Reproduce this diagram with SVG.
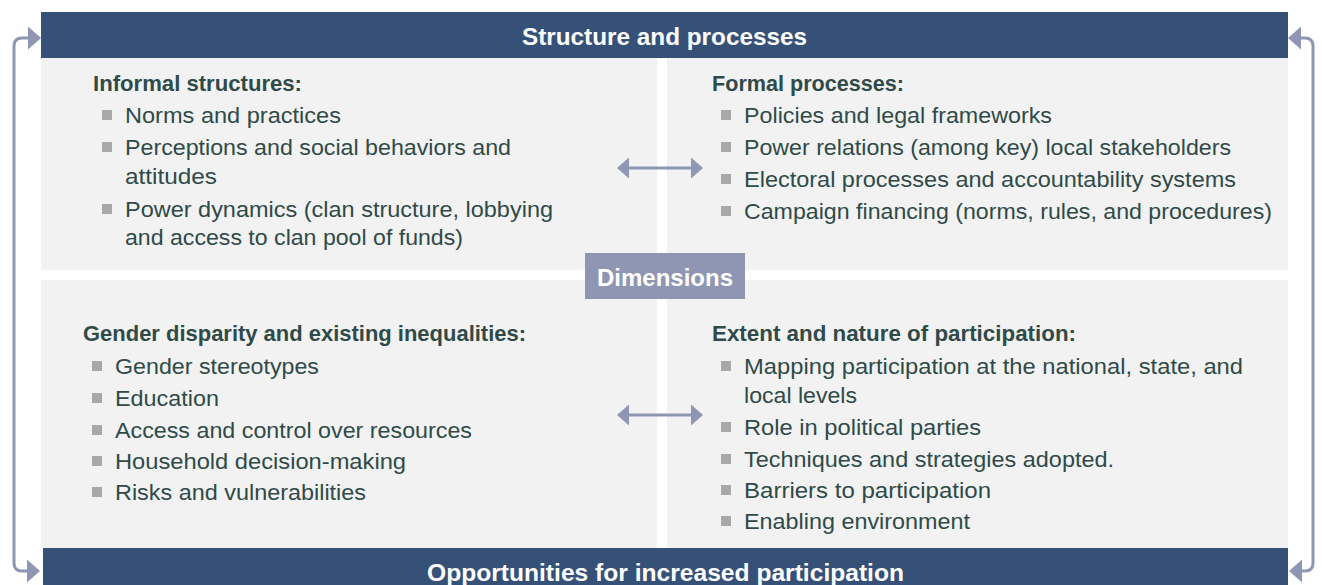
<svg xmlns="http://www.w3.org/2000/svg" width="1322" height="585" viewBox="0 0 1322 585">
  <style>
    .band { fill: #365177; }
    .panel { fill: #f2f2f2; }
    .dim { fill: #8f96b3; }
    .title { font-family: "Liberation Sans", Arial, sans-serif; font-weight: bold; font-size: 24px; fill: #ffffff; text-anchor: middle; }
    .head { font-family: "Liberation Sans", Arial, sans-serif; font-weight: bold; font-size: 22px; fill: #2f4a48; }
    .item { font-family: "Liberation Sans", Arial, sans-serif; font-size: 22px; fill: #2f4a48; }
    .bullet { fill: #a9a7a7; }
    .conn { fill: none; stroke: #8f96b3; stroke-width: 3; }
  </style>
  <defs>
    <marker id="loopHead" viewBox="0 0 13 23" refX="0" refY="11.5" markerWidth="13" markerHeight="23" markerUnits="userSpaceOnUse" orient="auto-start-reverse">
      <path d="M0,0 L13,11.5 L0,23 Z" fill="#8f96b3"/>
    </marker>
    <marker id="linkHead" viewBox="0 0 12 21" refX="0" refY="10.5" markerWidth="12" markerHeight="21" markerUnits="userSpaceOnUse" orient="auto-start-reverse">
      <path d="M0,0 L12,10.5 L0,21 Z" fill="#8f96b3"/>
    </marker>
  </defs>

  <!-- Top band -->
  <g id="structure-band">
    <rect class="band" x="41" y="12" width="1247" height="46"/>
    <text class="title" x="664.5" y="45" textLength="285" lengthAdjust="spacingAndGlyphs">Structure and processes</text>
  </g>

  <!-- Informal structures -->
  <g id="informal-structures">
    <rect class="panel" x="41" y="58" width="616" height="212"/>
    <text class="head" x="93" y="91" textLength="209" lengthAdjust="spacingAndGlyphs">Informal structures:</text>
    <rect class="bullet" x="102" y="110" width="10" height="10"/>
    <text class="item" x="125" y="123" textLength="216" lengthAdjust="spacingAndGlyphs">Norms and practices</text>
    <rect class="bullet" x="102" y="142" width="10" height="10"/>
    <text class="item" x="125" y="155" textLength="386" lengthAdjust="spacingAndGlyphs">Perceptions and social behaviors and</text>
    <text class="item" x="125" y="184" textLength="92" lengthAdjust="spacingAndGlyphs">attitudes</text>
    <rect class="bullet" x="102" y="204" width="10" height="10"/>
    <text class="item" x="125" y="217" textLength="428" lengthAdjust="spacingAndGlyphs">Power dynamics (clan structure, lobbying</text>
    <text class="item" x="125" y="245" textLength="338" lengthAdjust="spacingAndGlyphs">and access to clan pool of funds)</text>
  </g>

  <!-- Formal processes -->
  <g id="formal-processes">
    <rect class="panel" x="667" y="58" width="621" height="212"/>
    <text class="head" x="712" y="91" textLength="192" lengthAdjust="spacingAndGlyphs">Formal processes:</text>
    <rect class="bullet" x="721" y="110" width="10" height="10"/>
    <text class="item" x="744" y="123" textLength="308" lengthAdjust="spacingAndGlyphs">Policies and legal frameworks</text>
    <rect class="bullet" x="721" y="142" width="10" height="10"/>
    <text class="item" x="744" y="155" textLength="487" lengthAdjust="spacingAndGlyphs">Power relations (among key) local stakeholders</text>
    <rect class="bullet" x="721" y="174" width="10" height="10"/>
    <text class="item" x="744" y="187" textLength="492" lengthAdjust="spacingAndGlyphs">Electoral processes and accountability systems</text>
    <rect class="bullet" x="721" y="206" width="10" height="10"/>
    <text class="item" x="744" y="219" textLength="528" lengthAdjust="spacingAndGlyphs">Campaign financing (norms, rules, and procedures)</text>
  </g>

  <!-- Gender disparity -->
  <g id="gender-disparity">
    <rect class="panel" x="41" y="280" width="616" height="268"/>
    <text class="head" x="83" y="341" textLength="443" lengthAdjust="spacingAndGlyphs">Gender disparity and existing inequalities:</text>
    <rect class="bullet" x="92" y="361" width="10" height="10"/>
    <text class="item" x="115" y="374" textLength="204" lengthAdjust="spacingAndGlyphs">Gender stereotypes</text>
    <rect class="bullet" x="92" y="393" width="10" height="10"/>
    <text class="item" x="115" y="406" textLength="104" lengthAdjust="spacingAndGlyphs">Education</text>
    <rect class="bullet" x="92" y="425" width="10" height="10"/>
    <text class="item" x="115" y="438" textLength="357" lengthAdjust="spacingAndGlyphs">Access and control over resources</text>
    <rect class="bullet" x="92" y="456" width="10" height="10"/>
    <text class="item" x="115" y="469" textLength="291" lengthAdjust="spacingAndGlyphs">Household decision-making</text>
    <rect class="bullet" x="92" y="487" width="10" height="10"/>
    <text class="item" x="115" y="500" textLength="251" lengthAdjust="spacingAndGlyphs">Risks and vulnerabilities</text>
  </g>

  <!-- Extent and nature of participation -->
  <g id="participation">
    <rect class="panel" x="667" y="280" width="621" height="268"/>
    <text class="head" x="712" y="341" textLength="364" lengthAdjust="spacingAndGlyphs">Extent and nature of participation:</text>
    <rect class="bullet" x="721" y="361" width="10" height="10"/>
    <text class="item" x="744" y="374" textLength="499" lengthAdjust="spacingAndGlyphs">Mapping participation at the national, state, and</text>
    <text class="item" x="744" y="403" textLength="113" lengthAdjust="spacingAndGlyphs">local levels</text>
    <rect class="bullet" x="721" y="422" width="10" height="10"/>
    <text class="item" x="744" y="435" textLength="237" lengthAdjust="spacingAndGlyphs">Role in political parties</text>
    <rect class="bullet" x="721" y="454" width="10" height="10"/>
    <text class="item" x="744" y="467" textLength="370" lengthAdjust="spacingAndGlyphs">Techniques and strategies adopted.</text>
    <rect class="bullet" x="721" y="485" width="10" height="10"/>
    <text class="item" x="744" y="498" textLength="247" lengthAdjust="spacingAndGlyphs">Barriers to participation</text>
    <rect class="bullet" x="721" y="516" width="10" height="10"/>
    <text class="item" x="744" y="529" textLength="226" lengthAdjust="spacingAndGlyphs">Enabling environment</text>
  </g>

  <!-- Centre label -->
  <g id="dimensions">
    <rect class="dim" x="585" y="253" width="160" height="46"/>
    <text class="title" x="665" y="286" textLength="136" lengthAdjust="spacingAndGlyphs">Dimensions</text>
  </g>

  <!-- Bottom band -->
  <g id="opportunities-band">
    <rect class="band" x="43" y="548" width="1245" height="40"/>
    <text class="title" x="665.5" y="581" textLength="477" lengthAdjust="spacingAndGlyphs">Opportunities for increased participation</text>
  </g>

  <!-- Connectors -->
  <g id="connectors">
    <path class="conn" d="M629,168 H691" marker-start="url(#linkHead)" marker-end="url(#linkHead)"/>
    <path class="conn" d="M629,415 H691" marker-start="url(#linkHead)" marker-end="url(#linkHead)"/>
    <path class="conn" d="M28,38 H22 Q14,38 14,46 V563 Q14,571 22,571 H27" marker-start="url(#loopHead)" marker-end="url(#loopHead)"/>
    <path class="conn" d="M1301,38 H1305 Q1313,38 1313,46 V563 Q1313,571 1305,571 H1302" marker-start="url(#loopHead)" marker-end="url(#loopHead)"/>
  </g>
</svg>
